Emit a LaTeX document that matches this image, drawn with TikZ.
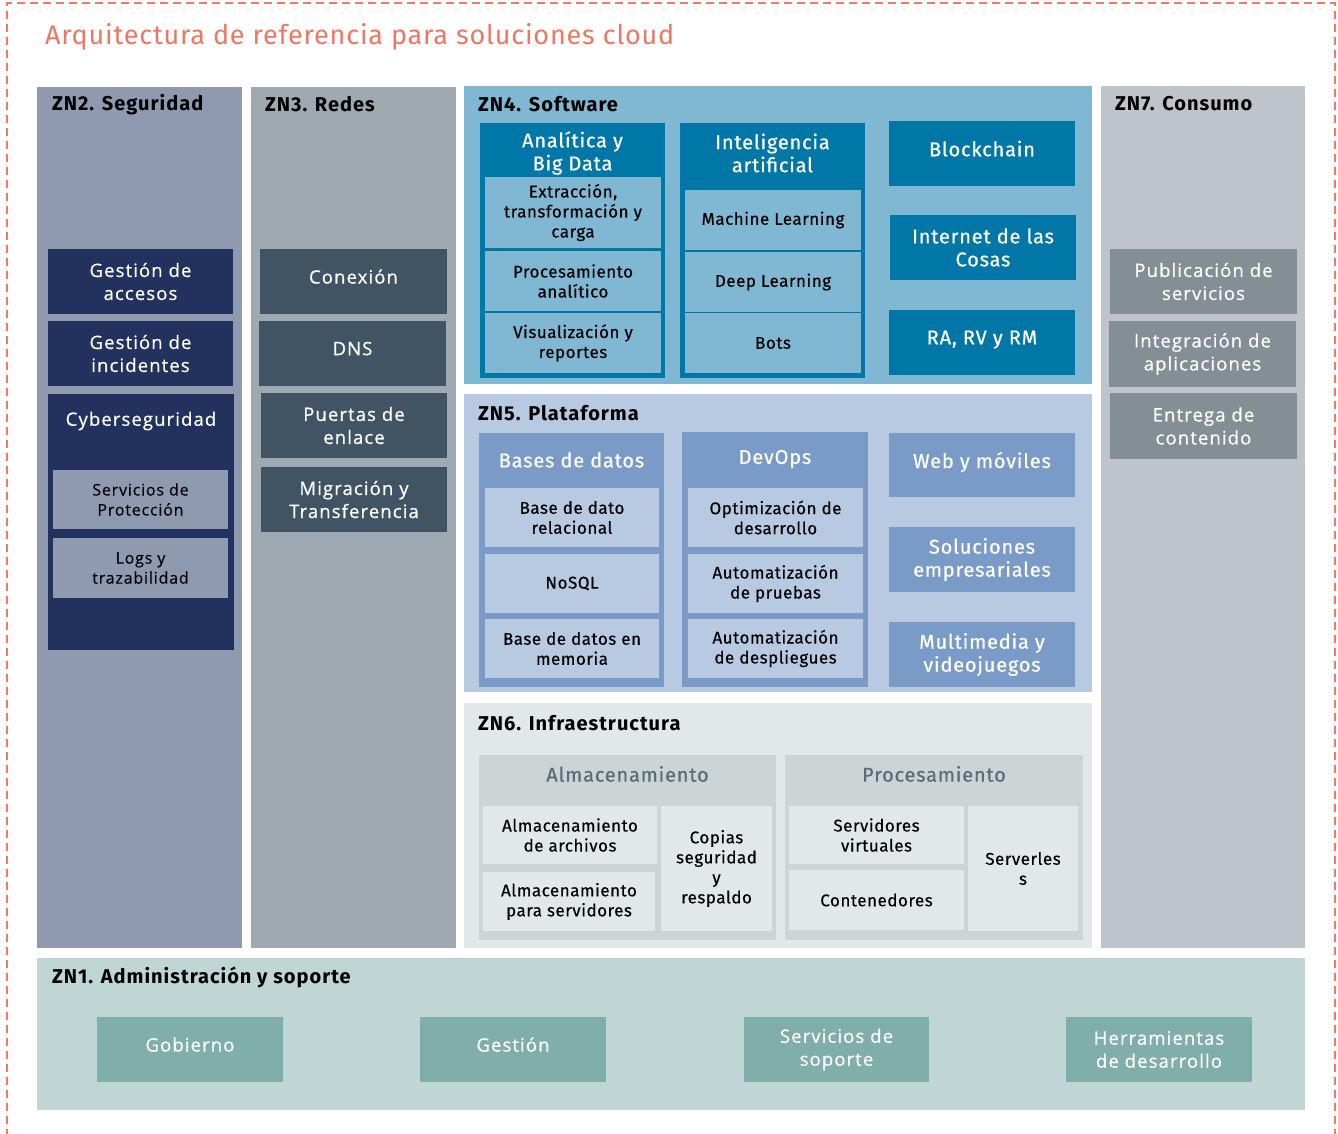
\documentclass[tikz,border=0pt]{standalone}
\usepackage{fontspec}
\setmainfont{Open Sans}
\newfontfamily\titlefont{Fira Sans}[LetterSpace=3]
\newfontfamily\headfont{Fira Sans}[LetterSpace=5]
\newfontfamily\plexfont{Fira Sans}[LetterSpace=4, FakeBold=0.6]
\newfontfamily\subfont{Fira Sans}[LetterSpace=3, FakeBold=0.4]
\newfontfamily\boxfont{Open Sans}[LetterSpace=6, FakeBold=0.7]
\newfontfamily\smallfont{Open Sans}[LetterSpace=5, FakeBold=0.4]
\definecolor{frameRed}{HTML}{F07A62}
\definecolor{titleRed}{HTML}{EE7763}
\definecolor{segZone}{HTML}{8F99AF}
\definecolor{redZone}{HTML}{9FA9B2}
\definecolor{softZone}{HTML}{80B8D3}
\definecolor{platZone}{HTML}{B8CAE2}
\definecolor{infraZone}{HTML}{E2E7E9}
\definecolor{consZone}{HTML}{BEC4C9}
\definecolor{admZone}{HTML}{BFD6D4}
\definecolor{segBox}{HTML}{22315D}
\definecolor{redBox}{HTML}{415464}
\definecolor{softBox}{HTML}{0077A7}
\definecolor{platBox}{HTML}{7A9BC8}
\definecolor{infraBox}{HTML}{CCD5D6}
\definecolor{infraText}{HTML}{5A6B7C}
\definecolor{consBox}{HTML}{848E95}
\definecolor{admBox}{HTML}{80AEAB}
\begin{document}
\begin{tikzpicture}[x=1pt, y=-1pt,
    every node/.style={inner sep=0pt, outer sep=0pt, align=center},
    wh/.style 2 args={anchor=north west, minimum width=#1pt, minimum height=#2pt},
    raised/.style={text depth=10pt},
    heading/.style={anchor=west, font=\headfont\bfseries\fontsize{20}{24}\selectfont},
    whitebig/.style={text=white, font=\boxfont\fontsize{18.5}{23}\selectfont},
    whiteplex/.style={text=white, font=\plexfont\fontsize{20}{23}\selectfont},
    subplex/.style={text=black, font=\subfont\fontsize{17}{20}\selectfont},
    subopen/.style={text=black, font=\smallfont\fontsize{16}{20}\selectfont}]
    \useasboundingbox (0,0) rectangle (1338,1134);
    \fill[white] (0,0) rectangle (1338,1134);
    \draw[frameRed, line width=1.5pt, dash pattern=on 8pt off 5pt] (7,1150) -- (7,3) -- (1335,3) -- (1335,1150);
    \node[anchor=west, text=titleRed, font=\titlefont\fontsize{27}{30}\selectfont] (title) at (45,37) {Arquitectura de referencia para soluciones cloud};

    \node[wh={205}{861}, fill=segZone] (zn2) at (37,87) {};
    \node[wh={205}{861}, fill=redZone] (zn3) at (251,87) {};
    \node[wh={628}{298}, fill=softZone] (zn4) at (464,86) {};
    \node[wh={628}{298}, fill=platZone] (zn5) at (464,394) {};
    \node[wh={628}{245}, fill=infraZone] (zn6) at (464,703) {};
    \node[wh={204}{862}, fill=consZone] (zn7) at (1101,86) {};
    \node[wh={1268}{152}, fill=admZone] (zn1) at (37,958) {};

    \node[heading] (zn2h) at (52,105) {ZN2. Seguridad};
    \node[heading] (zn3h) at (265,104) {ZN3. Redes};
    \node[heading] (zn4h) at (478,104) {ZN4. Software};
    \node[heading] (zn5h) at (478,413) {ZN5. Plataforma};
    \node[heading] (zn6h) at (478,723) {ZN6. Infraestructura};
    \node[heading] (zn7h) at (1115,104) {ZN7. Consumo};
    \node[heading] (zn1h) at (52,977) {ZN1. Administración y soporte};

    \node[wh={185}{65}, fill=segBox, whitebig] (accesos) at (48,249) {Gestión de\\accesos};
    \node[wh={185}{65}, fill=segBox, whitebig] (incidentes) at (48,321) {Gestión de\\incidentes};
    \node[wh={186}{256}, fill=segBox] (cyber) at (48,394) {};
    \node[whitebig] (cybert) at (141,421) {Cyberseguridad};
    \node[wh={175}{59}, fill=segZone, subopen] (proteccion) at (53,470) {Servicios de\\Protección};
    \node[wh={175}{60}, fill=segZone, subopen] (logs) at (53,538) {Logs y\\trazabilidad};

    \node[wh={187}{65}, fill=redBox, whitebig, raised] (conexion) at (260,249) {Conexión};
    \node[wh={187}{65}, fill=redBox, whitebig, raised] (dns) at (259,321) {DNS};
    \node[wh={186}{65}, fill=redBox, whitebig] (puertas) at (261,393) {Puertas de\\enlace};
    \node[wh={186}{65}, fill=redBox, whitebig] (migracion) at (261,467) {Migración y\\Transferencia};

    \node[wh={185}{255}, fill=softBox] (analitica) at (480,123) {};
    \node[whiteplex] (analiticat) at (572.5,153) {Analítica y\\Big Data};
    \node[wh={176}{71}, fill=softZone, subplex] (etl) at (485,177) {Extracción,\\transformación y\\carga};
    \node[wh={176}{60}, fill=softZone, subplex] (procesam) at (485,251) {Procesamiento\\analítico};
    \node[wh={176}{60}, fill=softZone, subplex] (visual) at (485,313) {Visualización y\\reportes};
    \node[wh={185}{255}, fill=softBox] (ia) at (680,123) {};
    \node[whiteplex] (iat) at (772.5,153) {Inteligencia\\artificial};
    \node[wh={176}{60}, fill=softZone, subplex] (ml) at (685,190) {Machine Learning};
    \node[wh={176}{60}, fill=softZone, subplex] (dl) at (685,252) {Deep Learning};
    \node[wh={176}{60}, fill=softZone, subplex] (bots) at (685,313) {Bots};
    \node[wh={186}{65}, fill=softBox, whiteplex, raised] (blockchain) at (889,121) {Blockchain};
    \node[wh={186}{65}, fill=softBox, whiteplex] (iot) at (890,215) {Internet de las\\Cosas};
    \node[wh={186}{65}, fill=softBox, whiteplex, raised] (rarv) at (889,310) {RA, RV y RM};

    \node[wh={185}{254}, fill=platBox] (bases) at (479,433) {};
    \node[whiteplex] (basest) at (571.5,460) {Bases de datos};
    \node[wh={174}{59}, fill=platZone, subplex] (relacional) at (485,488) {Base de dato\\relacional};
    \node[wh={174}{59}, fill=platZone, subplex] (nosql) at (485,554) {NoSQL};
    \node[wh={174}{59}, fill=platZone, subplex] (memoria) at (485,619) {Base de datos en\\memoria};
    \node[wh={186}{255}, fill=platBox] (devops) at (682,432) {};
    \node[whiteplex] (devopst) at (775,459) {DevOps};
    \node[wh={175}{59}, fill=platZone, subplex] (optim) at (688,488) {Optimización de\\desarrollo};
    \node[wh={175}{59}, fill=platZone, subplex] (pruebas) at (688,554) {Automatización\\de pruebas};
    \node[wh={175}{59}, fill=platZone, subplex] (despl) at (688,619) {Automatización\\de despliegues};
    \node[wh={186}{64}, fill=platBox, whiteplex, raised] (web) at (889,433) {Web y móviles};
    \node[wh={186}{65}, fill=platBox, whiteplex] (soluciones) at (889,527) {Soluciones\\empresariales};
    \node[wh={186}{65}, fill=platBox, whiteplex] (multimedia) at (889,622) {Multimedia y\\videojuegos};

    \node[wh={297}{185}, fill=infraBox] (almac) at (479,755) {};
    \node[text=infraText, font=\plexfont\fontsize{20}{23}\selectfont] (almact) at (627.5,774) {Almacenamiento};
    \node[wh={174}{58}, fill=infraZone, subplex] (archivos) at (483,806) {Almacenamiento\\de archivos};
    \node[wh={172}{59}, fill=infraZone, subplex] (servidores) at (483,872) {Almacenamiento\\para servidores};
    \node[wh={111}{125}, fill=infraZone, subplex] (copias) at (661,806) {Copias\\seguridad\\y\\respaldo};
    \node[wh={298}{185}, fill=infraBox] (proces) at (785,755) {};
    \node[text=infraText, font=\plexfont\fontsize{20}{23}\selectfont] (procest) at (934,774) {Procesamiento};
    \node[wh={175}{58}, fill=infraZone, subplex] (virtuales) at (789,806) {Servidores\\virtuales};
    \node[wh={175}{60}, fill=infraZone, subplex] (contened) at (789,870) {Contenedores};
    \node[wh={110}{125}, fill=infraZone, subplex] (serverless) at (968,806) {Serverles\\s};

    \node[wh={187}{65}, fill=consBox, whitebig] (publicacion) at (1110,249) {Publicación de\\servicios};
    \node[wh={187}{66}, fill=consBox, whitebig] (integracion) at (1109,321) {Integración de\\aplicaciones};
    \node[wh={187}{66}, fill=consBox, whitebig] (entrega) at (1110,393) {Entrega de\\contenido};

    \node[wh={186}{65}, fill=admBox, whitebig, raised] (gobierno) at (97,1017) {Gobierno};
    \node[wh={186}{65}, fill=admBox, whitebig, raised] (gestion) at (420,1017) {Gestión};
    \node[wh={185}{65}, fill=admBox, whitebig] (soporte) at (744,1017) {Servicios de\\soporte};
    \node[wh={186}{65}, fill=admBox, whitebig] (herram) at (1066,1017) {Herramientas\\de desarrollo};
\end{tikzpicture}
\end{document}
